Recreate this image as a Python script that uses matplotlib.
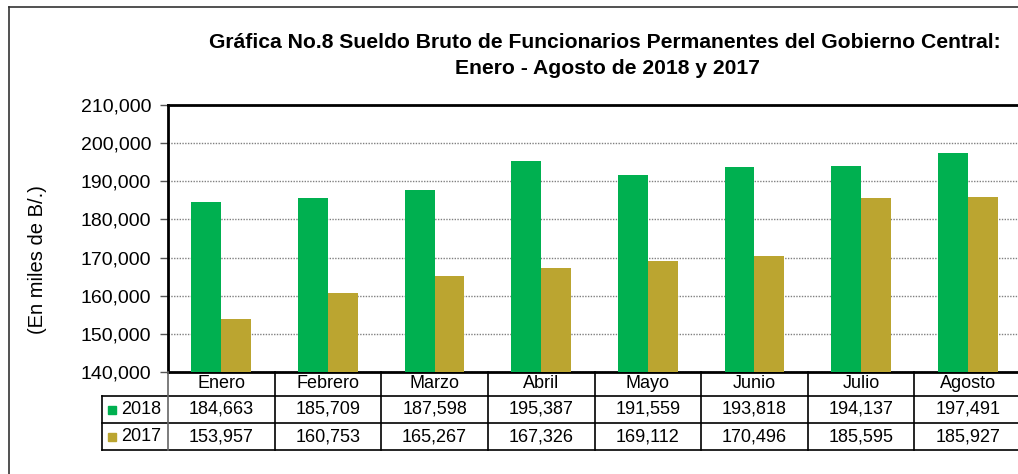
import numpy as np
import matplotlib.pyplot as plt
from matplotlib.lines import Line2D
from matplotlib.patches import Rectangle

plt.rcParams['font.family'] = ['Liberation Sans', 'DejaVu Sans']

# =========================
# Data
# =========================
meses = ["Enero", "Febrero", "Marzo", "Abril", "Mayo", "Junio", "Julio", "Agosto"]
series_names = ["2018", "2017"]
valores_2018 = [184663, 185709, 187598, 195387, 191559, 193818, 194137, 197491]
valores_2017 = [153957, 160753, 165267, 167326, 169112, 170496, 185595, 185927]
colores = ["#00B050", "#BBA530"]

W, H = 1018, 474


def fx(px):
    return px / W


def fy(py):
    return 1 - py / H


fig = plt.figure(figsize=(W / 100, H / 100), dpi=100)

# plot area in pixels
left_px, right_px, top_px, bottom_px = 168, 1021, 105, 372
ax = fig.add_axes([fx(left_px), fy(bottom_px),
                   fx(right_px) - fx(left_px), fy(top_px) - fy(bottom_px)])

x = np.arange(len(meses))
w = 0.28
ax.bar(x - w / 2, valores_2018, width=w, color=colores[0], zorder=3)
ax.bar(x + w / 2, valores_2017, width=w, color=colores[1], zorder=3)

ax.set_xlim(-0.5, len(meses) - 0.5)
ax.set_ylim(140000, 210000)
ax.set_yticks(np.arange(140000, 210001, 10000))
ax.yaxis.set_major_formatter(plt.FuncFormatter(lambda v, p: f"{int(v):,}"))
ax.tick_params(axis='y', labelsize=14, length=6, width=1, color='#555555', pad=6)
ax.set_xticks([])
ax.grid(axis='y', linestyle=(0, (1, 1)), color='#808080', linewidth=1, zorder=0)
for s in ['left', 'top', 'bottom']:
    ax.spines[s].set_linewidth(2)
    ax.spines[s].set_color('black')
ax.spines['right'].set_visible(False)

# =========================
# Data table below the axes
# =========================
cat_w = (right_px - left_px) / len(meses)
row_y = [372, 396, 423, 450]
leg_left = 102

def hline(x0, x1, y, lw=1.2, c='black'):
    fig.add_artist(Line2D([fx(x0), fx(x1)], [fy(y), fy(y)], color=c, lw=lw))

def vline(xp, y0, y1, lw=1.2, c='black'):
    fig.add_artist(Line2D([fx(xp), fx(xp)], [fy(y0), fy(y1)], color=c, lw=lw))

hline(leg_left, W, row_y[1])
hline(leg_left, W, row_y[2])
hline(leg_left, W, row_y[3])
vline(leg_left, row_y[1], row_y[3])
vline(left_px, row_y[0], row_y[3], c='#666666')
for k in range(1, len(meses) + 1):
    vline(left_px + k * cat_w, row_y[0], row_y[3])

for i, m in enumerate(meses):
    cx = left_px + (i + 0.5) * cat_w
    fig.text(fx(cx), fy((row_y[0] + row_y[1]) / 2), m, ha='center', va='center', fontsize=13)
    fig.text(fx(cx), fy((row_y[1] + row_y[2]) / 2), f"{valores_2018[i]:,}",
             ha='center', va='center', fontsize=13)
    fig.text(fx(cx), fy((row_y[2] + row_y[3]) / 2), f"{valores_2017[i]:,}",
             ha='center', va='center', fontsize=13)

for r, (name, col) in enumerate(zip(series_names, colores)):
    cy = (row_y[r + 1] + row_y[r + 2]) / 2
    fig.add_artist(Rectangle((fx(108), fy(cy + 4)), fx(8), fy(0) - fy(8),
                             color=col, transform=fig.transFigure))
    fig.text(fx(121), fy(cy), name, ha='left', va='center', fontsize=13)

# =========================
# Titles and outer frame
# =========================
fig.text(fx(605), fy(43), "Gráfica No.8 Sueldo Bruto de Funcionarios Permanentes del Gobierno Central:",
         ha='center', va='center', fontsize=15.2, fontweight='bold')
fig.text(fx(607), fy(68), "Enero - Agosto de 2018 y 2017",
         ha='center', va='center', fontsize=15.2, fontweight='bold')
fig.text(fx(38), fy(260), "(En miles de B/.)", rotation=90,
         ha='center', va='center', fontsize=14.5)

hline(9, W, 7, lw=1.2, c='#333333')
vline(9, 7, H, lw=1.2, c='#333333')

fig.savefig("out.png", dpi=100)
